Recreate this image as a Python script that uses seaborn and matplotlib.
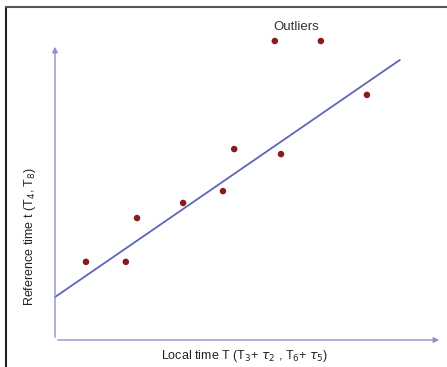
import numpy as np
import pandas as pd
import seaborn as sns
import matplotlib.pyplot as plt
from matplotlib.lines import Line2D

# local time vs reference time (arbitrary units, axes run 0..10)
local_t = [0.80, 1.83, 2.12, 3.31, 4.34, 4.63, 5.84, 8.06]
ref_t = [2.64, 2.64, 4.12, 4.63, 5.03, 6.45, 6.28, 8.28]
outlier_t = [5.68, 6.87]
outlier_ref = [10.10, 10.10]

# fitted relation drawn as a straight line
line_x = [0.0, 8.91]
line_y = [1.45, 9.46]

pts = pd.DataFrame({"T": local_t + outlier_t, "t": ref_t + outlier_ref})
fit = pd.DataFrame({"T": line_x, "t": line_y})

sns.set_style("white")
plt.rcParams["font.family"] = ["Liberation Sans", "DejaVu Sans"]

fig = plt.figure(figsize=(4.47, 3.67), dpi=100)
ax = fig.add_axes([0, 0, 1, 1])
ax.set_xlim(-1.421, 10.129)
ax.set_ylim(-0.912, 11.486)
ax.axis("off")

axis_col = "#8c8fd0"
ax.annotate("", xy=(10.0, 0), xytext=(0, 0),
            arrowprops=dict(arrowstyle="-|>", color=axis_col, lw=1.0, mutation_scale=8))
ax.annotate("", xy=(0, 10.0), xytext=(0, 0),
            arrowprops=dict(arrowstyle="-|>", color=axis_col, lw=1.0, mutation_scale=8))

sns.lineplot(data=fit, x="T", y="t", ax=ax, color="#5c67b8", lw=1.3)
sns.scatterplot(data=pts, x="T", y="t", ax=ax, color="#8b1a1a", s=22,
                edgecolor="none", zorder=5)

ax.text(np.mean(outlier_t) - 0.04, 10.57, "Outliers", ha="center", va="center",
        fontsize=9.5, color="#333333")
ax.text(4.91, -0.54, r"Local time T (T$_3$+ $\tau_2$ , T$_6$+ $\tau_5$)",
        ha="center", va="center", fontsize=9, color="#222222")
ax.text(-0.65, 3.51, r"Reference time t (T$_4$, T$_8$)", rotation=90,
        ha="center", va="center", fontsize=9, color="#222222")

# frame around the picture (left and top edges)
fig.add_artist(Line2D([6 / 447, 6 / 447], [0, 1 - 7 / 367], color="#222222",
                      lw=1.5, transform=fig.transFigure))
fig.add_artist(Line2D([6 / 447, 1], [1 - 7 / 367, 1 - 7 / 367], color="#555555",
                      lw=1.5, transform=fig.transFigure))

fig.savefig("out.png", dpi=100)
